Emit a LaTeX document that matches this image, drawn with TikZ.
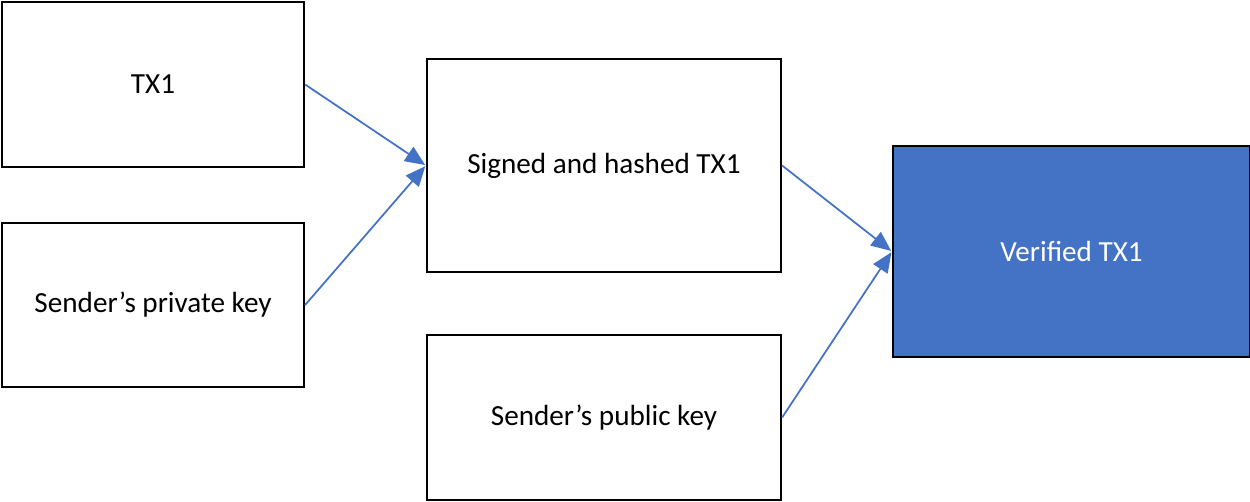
\documentclass[tikz,border=0pt]{standalone}
\usepackage{fontspec}
\setmainfont{Carlito}
\usetikzlibrary{arrows.meta}
\definecolor{vblue}{HTML}{4472C4}
\begin{document}
\begin{tikzpicture}[x=0.02cm,y=-0.02cm,
  box/.style={draw=black,line width=1.3pt,fill=white,inner sep=0pt,align=center,font=\fontsize{16.6}{20}\selectfont},
  conn/.style={draw=vblue,line width=1pt,-{Triangle[length=0.4cm,width=0.34cm]},shorten >=0.5pt}]
\useasboundingbox (0,0) rectangle (1250,502);
\node[box,minimum width=6.04cm,minimum height=3.3cm] (tx) at (153,84.5) {TX1};
\node[box,minimum width=6.04cm,minimum height=3.28cm] (priv) at (153,305) {Sender’s private key};
\node[box,minimum width=7.08cm,minimum height=4.26cm] (sig) at (604,165.5) {Signed and hashed TX1};
\node[box,minimum width=7.08cm,minimum height=3.3cm] (pub) at (604,417.5) {Sender’s public key};
\node[box,fill=vblue,text=white,minimum width=7.14cm,minimum height=4.22cm] (ver) at (1071.5,251.5) {Verified TX1};
\draw[conn] (tx.east) -- (sig.west);
\draw[conn] (priv.east) -- (sig.west);
\draw[conn] (sig.east) -- (ver.west);
\draw[conn] (pub.east) -- (ver.west);
\end{tikzpicture}
\end{document}
